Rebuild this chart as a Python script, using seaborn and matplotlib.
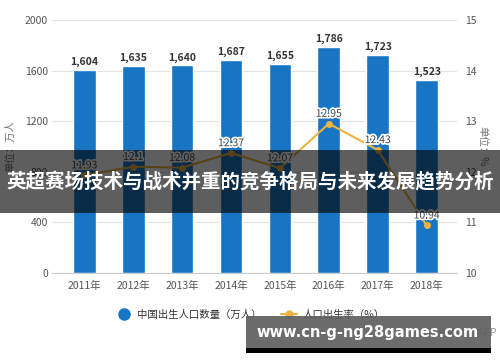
import numpy as np
import matplotlib
matplotlib.use("Agg")
import matplotlib.pyplot as plt
import matplotlib.patheffects as pe
from matplotlib.patches import Rectangle
from matplotlib.lines import Line2D
import seaborn as sns

# 数据
years = ["2011年", "2012年", "2013年", "2014年", "2015年", "2016年", "2017年", "2018年"]
births = [1604, 1635, 1640, 1687, 1655, 1786, 1723, 1523]   # 万人
rates = [11.93, 12.1, 12.08, 12.37, 12.07, 12.95, 12.43, 10.94]  # %
birth_labels = ["1,604", "1,635", "1,640", "1,687", "1,655", "1,786", "1,723", "1,523"]
rate_labels = ["11.93", "12.1", "12.08", "12.37", "12.07", "12.95", "12.43", "10.94"]
left_ticks = [0, 400, 800, 1200, 1600, 2000]
right_ticks = [10, 11, 12, 13, 14, 15]

title = "英超赛场技术与战术并重的竞争格局与未来发展趋势分析"
site = "www.cn-g-ng28games.com"

sns.set_style("white")
plt.rcParams["font.family"] = ["Noto Sans CJK SC", "DejaVu Sans"]

bar_color = "#1775C4"
line_color = "#EDB441"
txt = "#555555"

fig = plt.figure(figsize=(5, 3.62), dpi=100)
ax = fig.add_axes([0.104, 0.246, 0.81, 0.699])

sns.barplot(x=years, y=births, color=bar_color, saturation=1, width=0.465, ax=ax)
ax.set_ylim(0, 2000)
ax.set_yticks(left_ticks)
ax.set_xlim(-0.66, 7.62)
ax.grid(axis="y", color="#e3e3e3", lw=0.8)
ax.set_axisbelow(True)
for s in ["top", "left", "right"]:
    ax.spines[s].set_visible(False)
ax.spines["bottom"].set_color("#cccccc")
ax.tick_params(axis="both", length=0, labelsize=7.5, labelcolor=txt)
ax.tick_params(axis="x", pad=6)
ax.tick_params(axis="y", pad=3)
ax.set_xlabel("")
ax.set_ylabel("单位：万人", fontsize=7.5, color="#777777")
ax.yaxis.set_label_coords(-0.091, 0.5)

for i, v in enumerate(births):
    ax.annotate(birth_labels[i], (i, v), xytext=(0, 2), textcoords="offset points",
                ha="center", va="bottom", fontsize=7.5, fontweight="bold", color="#333333")

ax2 = ax.twinx()
sns.lineplot(x=np.arange(len(rates)), y=rates, color=line_color, lw=1.5,
             marker="o", markersize=5, markeredgewidth=0, ax=ax2)
ax2.set_ylim(10, 15)
ax2.set_yticks(right_ticks)
ax2.set_xlim(-0.66, 7.62)
for s in ["top", "left", "right", "bottom"]:
    ax2.spines[s].set_visible(False)
ax2.tick_params(axis="y", length=0, labelsize=7.5, labelcolor=txt, pad=6)
ax2.set_ylabel("单位：%", fontsize=7.5, color="#777777", rotation=-90)
ax2.yaxis.set_label_coords(1.074, 0.5)

for i, v in enumerate(rates):
    ax2.annotate(rate_labels[i], (i, v), xytext=(0, 3.5), textcoords="offset points",
                 ha="center", va="bottom", fontsize=7.5, color="#444444",
                 path_effects=[pe.withStroke(linewidth=2.5, foreground="white")])

handles = [
    Line2D([], [], color=bar_color, marker="o", lw=0, markersize=8),
    Line2D([], [], color=line_color, marker="o", lw=1.5, markersize=5),
]
fig.legend(handles, ["中国出生人口数量（万人）", "人口出生率（%）"], loc="center",
           bbox_to_anchor=(0.5, 0.13), ncol=2, frameon=False, fontsize=7.5,
           labelcolor="#333333", handlelength=1.6, handletextpad=0.5, columnspacing=1.8)

# 来源文字（被遮挡）
fig.text(0.994, 0.08, "前瞻经济学人APP", ha="right", va="center", fontsize=7.5, color="#999999")

# 标题横幅
fig.add_artist(Rectangle((0, 0.4116), 1, 0.174, transform=fig.transFigure,
                         color="black", alpha=0.63, lw=0, zorder=10))
fig.text(0.5, 0.497, title, ha="center", va="center", fontsize=14,
         fontweight="bold", color="white", zorder=11)

# 网址水印
fig.add_artist(Rectangle((0.492, 0.039), 0.49, 0.088, transform=fig.transFigure,
                         color="#5f5f5f", alpha=0.92, lw=0, zorder=10))
fig.add_artist(Rectangle((0.492, 0.025), 0.49, 0.014, transform=fig.transFigure,
                         color="black", lw=0, zorder=10))
fig.text(0.736, 0.081, site, ha="center", va="center", fontsize=10.5,
         fontweight="bold", color="white", family="DejaVu Sans", zorder=11)

fig.savefig("out.png", dpi=100)
